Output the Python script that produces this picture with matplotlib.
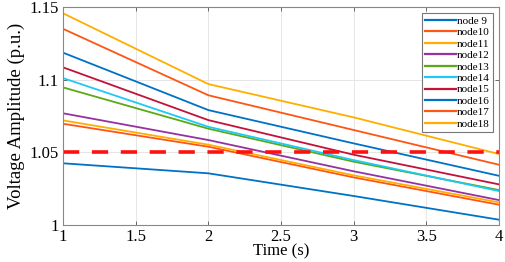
import matplotlib
matplotlib.use('Agg')
import matplotlib.pyplot as plt

plt.rcParams['font.family'] = ['Liberation Serif', 'DejaVu Serif']

time = [1, 2, 3, 4]

# voltage amplitude (p.u.) per node
node9 = [1.0425, 1.0356, 1.0200, 1.0037]
node10 = [1.0697, 1.0539, 1.0328, 1.0140]
node11 = [1.0720, 1.0553, 1.0342, 1.0156]
node12 = [1.0769, 1.0585, 1.0370, 1.0172]
node13 = [1.0947, 1.0663, 1.0436, 1.0241]
node14 = [1.1011, 1.0676, 1.0447, 1.0234]
node15 = [1.1085, 1.0722, 1.0484, 1.0280]
node16 = [1.1186, 1.0791, 1.0562, 1.0339]
node17 = [1.1350, 1.0893, 1.0654, 1.0415]
node18 = [1.1457, 1.0970, 1.0741, 1.0489]

labels = ['node 9', 'node10', 'node11', 'node12', 'node13',
          'node14', 'node15', 'node16', 'node17', 'node18']
series = [node9, node10, node11, node12, node13,
          node14, node15, node16, node17, node18]
limit = 1.05

colors = ['#0072C6', '#FF5514', '#FFAE00', '#9433A0', '#5AAA18',
          '#20C8F5', '#C2123A', '#0072C6', '#FF5514', '#FFAE00']

fig = plt.figure(figsize=(5.05, 2.62), dpi=100)
ax = fig.add_axes([0.125, 0.141, 0.863, 0.832])

for vals, lab, c in zip(series, labels, colors):
    ax.plot(time, vals, color=c, lw=1.3, label=lab)

ax.plot([time[0], time[-1]], [limit, limit], color='#FF1010', lw=2.6,
        dashes=(4.5, 3.5))

ax.set_xlim(1, 4)
ax.set_ylim(1, 1.15)
ax.set_xticks([1, 1.5, 2, 2.5, 3, 3.5, 4])
ax.set_xticklabels(['1', '1.5', '2', '2.5', '3', '3.5', '4'])
ax.set_yticks([1, 1.05, 1.1, 1.15])
ax.set_yticklabels(['1', '1.05', '1.1', '1.15'])
ax.grid(True, color='#E6E6E6', lw=0.7)
ax.tick_params(direction='in', top=True, right=True, labelsize=12,
               length=3, width=0.6, colors='#555555', labelcolor='black', pad=3)
for s in ax.spines.values():
    s.set_color('#888888')
    s.set_linewidth(0.8)

ax.set_xlabel('Time (s)', fontsize=12, labelpad=-1)
ax.set_ylabel('Voltage Amplitude (p.u.)', fontsize=13.5, labelpad=3)

leg = ax.legend(loc='upper right', fontsize=8, labelspacing=0.15,
                handlelength=2.8, handletextpad=0.1, borderpad=0.3,
                fancybox=False, framealpha=1, edgecolor='#777777',
                borderaxespad=0.5)
leg.get_frame().set_linewidth(0.8)
for line in leg.get_lines():
    line.set_linewidth(1.6)

fig.savefig('out.png', dpi=100)
